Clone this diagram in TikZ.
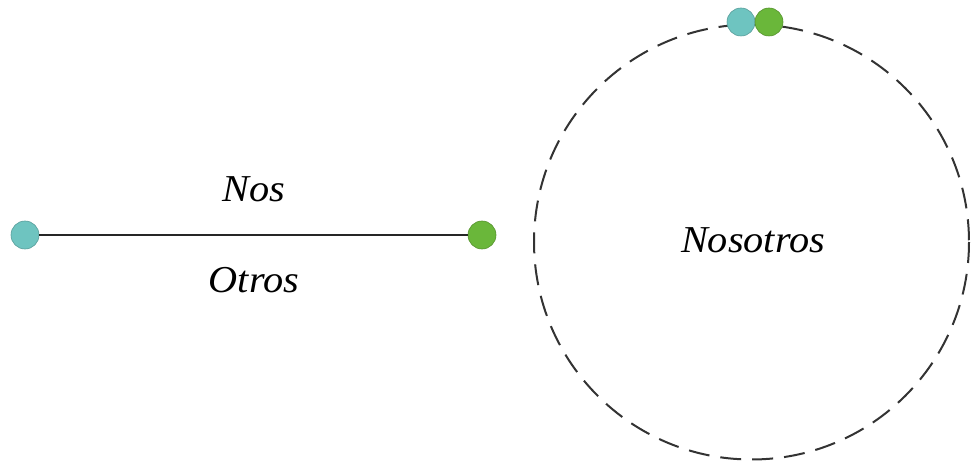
\documentclass[tikz,border=0pt]{standalone}
\usepackage{fontspec}
\setmainfont{Liberation Serif}
\definecolor{dotcyan}{HTML}{6EC4C0}
\definecolor{dotgreen}{HTML}{6AB73A}
\begin{document}
\begin{tikzpicture}[x=1pt,y=-1pt,
  cdot/.style={circle,fill=dotcyan,draw=dotcyan!80!black,line width=0.6pt,minimum size=28pt,inner sep=0pt},
  gdot/.style={circle,fill=dotgreen,draw=dotgreen!80!black,line width=0.6pt,minimum size=28pt,inner sep=0pt},
  lbl/.style={font=\itshape\fontsize{38}{44}\selectfont,inner sep=0pt,xscale=1.06}]
\useasboundingbox (0,0) rectangle (972,465);
\draw[line width=2pt,dash pattern=on 21pt off 11pt,black!80] (751.5,242) circle[radius=217.5];
\node[cdot] (a) at (25,235) {};
\node[gdot] (b) at (482,235) {};
\draw[line width=2pt,black!85] (a) -- (b);
\node[cdot] (c) at (741,22) {};
\node[gdot] (d) at (769,22) {};
\node[lbl] (nos) at (254,189) {Nos};
\node[lbl] (otros) at (254,280) {Otros};
\node[lbl] (nosotros) at (753,240) {Nosotros};
\end{tikzpicture}
\end{document}
